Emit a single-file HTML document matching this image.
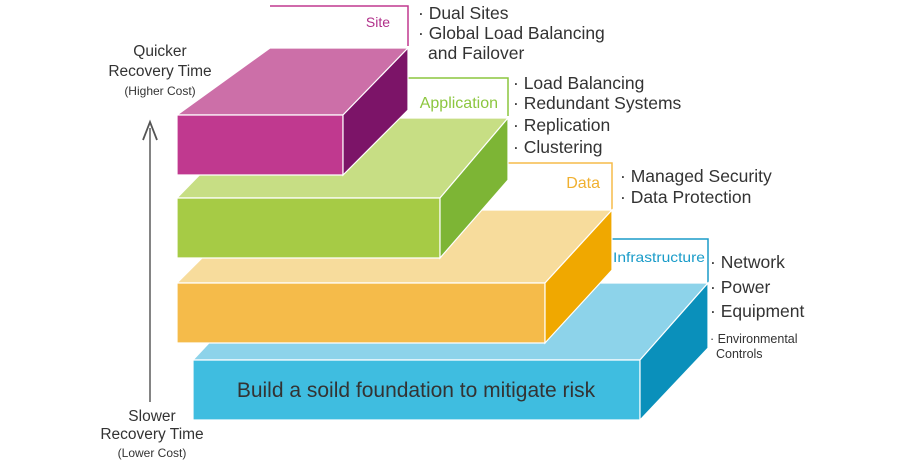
<!DOCTYPE html>
<html><head><meta charset="utf-8"><style>
html,body{margin:0;padding:0;background:#fff;}
svg{display:block;font-family:"Liberation Sans",sans-serif;}
</style></head><body>
<svg width="900" height="472" viewBox="0 0 900 472" xmlns="http://www.w3.org/2000/svg">
<rect width="900" height="472" fill="#fff"/>
<line x1="150" y1="128" x2="150" y2="402" stroke="#666" stroke-width="1.6"/>
<polyline points="143,140 150,122 157,140" fill="none" stroke="#555" stroke-width="1.8"/>
<g fill="#333" text-anchor="middle">
<text x="160" y="56" font-size="15.5">Quicker</text>
<text x="160" y="76" font-size="15.5">Recovery Time</text>
<text x="160" y="95" font-size="12">(Higher Cost)</text>
<text x="152" y="421" font-size="15.5">Slower</text>
<text x="152" y="439" font-size="15.5">Recovery Time</text>
<text x="152" y="457" font-size="12">(Lower Cost)</text>
</g>
<polyline points="270,6 408,6 408,46" fill="none" stroke="#c0398f" stroke-width="1.5"/>
<polyline points="408,78 508,78 508,116" fill="none" stroke="#8cc63f" stroke-width="1.5"/>
<polyline points="508,163 612,163 612,210" fill="none" stroke="#f5bb4a" stroke-width="1.5"/>
<polyline points="612,239 708,239 708,283" fill="none" stroke="#1a9cc9" stroke-width="1.5"/>
<g stroke="#fff" stroke-width="1.2">
<polygon points="265,283 708,283 640,360 193,360" fill="#8dd3ea"/>
<polygon points="193,360 640,360 640,420 193,420" fill="#3fbde0"/>
<polygon points="640,360 708,283 708,348 640,420" fill="#0a90bb"/>
</g>
<text x="416" y="397" font-size="21" fill="#333" text-anchor="middle">Build a soild foundation to mitigate risk</text>
<g stroke="#fff" stroke-width="1.2">
<polygon points="250,210 612,210 545,283 177,283" fill="#f7dc9c"/>
<polygon points="177,283 545,283 545,343 177,343" fill="#f5bb4a"/>
<polygon points="545,283 612,210 612,270 545,343" fill="#f0a800"/>
</g>
<g stroke="#fff" stroke-width="1.2">
<polygon points="255,118 508,118 440,198 177,198" fill="#c7de84"/>
<polygon points="177,198 440,198 440,258 177,258" fill="#a6cb45"/>
<polygon points="440,198 508,118 508,180 440,258" fill="#7db535"/>
</g>
<g stroke="#fff" stroke-width="1.2">
<polygon points="270,48 408,48 343,115 177,115" fill="#cc6fa8"/>
<polygon points="177,115 343,115 343,175 177,175" fill="#c0398f"/>
<polygon points="343,115 408,48 408,110 343,175" fill="#7c1468"/>
</g>
<text x="390" y="27" font-size="14" fill="#b0308a" text-anchor="end">Site</text>
<text x="498" y="108" font-size="16" fill="#8cc63f" text-anchor="end">Application</text>
<text x="600" y="188" font-size="16" fill="#f0b030" text-anchor="end">Data</text>
<text x="705" y="262" font-size="14" fill="#1a9cc9" text-anchor="end" textLength="92" lengthAdjust="spacingAndGlyphs">Infrastructure</text>
<g fill="#333" font-size="17.5">
<text x="418" y="19">· Dual Sites</text>
<text x="418" y="39">· Global Load Balancing</text>
<text x="428" y="59">and Failover</text>
<text x="513" y="89">· Load Balancing</text>
<text x="513" y="109">· Redundant Systems</text>
<text x="513" y="131">· Replication</text>
<text x="513" y="153">· Clustering</text>
<text x="620" y="182">· Managed Security</text>
<text x="620" y="203">· Data Protection</text>
<text x="710" y="268">· Network</text>
<text x="710" y="293">· Power</text>
<text x="710" y="317">· Equipment</text>
<text x="710" y="343" font-size="12.5">· Environmental</text>
<text x="716" y="358" font-size="12.5">Controls</text>
</g>
</svg>
</body></html>
